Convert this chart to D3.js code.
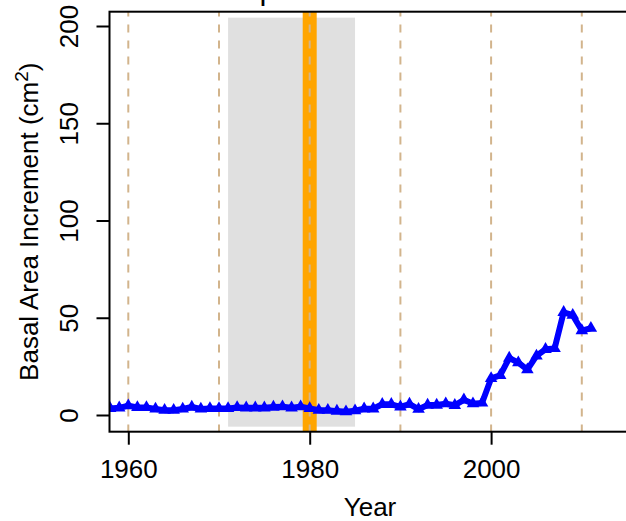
<!DOCTYPE html>
<html>
<head>
<meta charset="utf-8">
<script src="https://cdn.jsdelivr.net/npm/d3@7"></script>
<style>
    body { margin: 0; background: #ffffff; }
    svg { font-family: "Liberation Sans", Arial, sans-serif; }
</style>
</head>
<body>
<div id="chart-sandbox"></div>
<script>
var years = [1958, 1959, 1960, 1961, 1962, 1963, 1964, 1965, 1966, 1967,
             1968, 1969, 1970, 1971, 1972, 1973, 1974, 1975, 1976, 1977,
             1978, 1979, 1980, 1981, 1982, 1983, 1984, 1985, 1986, 1987,
             1988, 1989, 1990, 1991, 1992, 1993, 1994, 1995, 1996, 1997,
             1998, 1999, 2000, 2001, 2002, 2003, 2004, 2005, 2006, 2007,
             2008, 2009, 2010, 2011];
var bai = [3.4, 3.7, 4.8, 3.9, 3.9, 3.1, 2.5, 2.5, 3.1, 4.1,
           3.1, 3.4, 3.4, 3.4, 3.9, 3.7, 3.7, 3.7, 4.1, 4.3,
           3.7, 4.3, 3.4, 2.5, 2.5, 2.0, 1.7, 2.2, 3.2, 3.2,
           5.5, 5.5, 4.2, 5.6, 3.0, 5.1, 5.1, 5.8, 5.0, 7.8,
           5.8, 6.2, 18.8, 20.4, 29.3, 26.9, 23.3, 30.4, 33.8, 34.2,
           52.8, 51.3, 43.4, 44.6];

var xTicks = [1960, 1980, 2000];
var yTicks = [0, 50, 100, 150, 200];
var decadeLines = [1960, 1970, 1980, 1990, 2000, 2010];
var shadeYears = [1971, 1985];
var shadeValues = [-6, 204.3];
var eventYear = 1980;
var title = "Spruce Tree 1905";

var w = 626;
var h = 521;
var box = {left: 109.5, right: 630.5, top: 11.7, bottom: 431.7};

var x = d3.scaleLinear().domain([1960, 2000]).range([128.3, 491.1]);
var y = d3.scaleLinear().domain([0, 200]).range([415, 26]);

var svg = d3.select("#chart-sandbox").append("svg")
    .attr("width", w)
    .attr("height", h);

svg.append("clipPath").attr("id", "plot-clip")
    .append("rect")
    .attr("x", box.left)
    .attr("y", box.top)
    .attr("width", box.right - box.left)
    .attr("height", box.bottom - box.top);

var plot = svg.append("g").attr("clip-path", "url(#plot-clip)");

// shaded period
plot.append("rect")
    .attr("x", x(shadeYears[0]))
    .attr("y", y(shadeValues[1]))
    .attr("width", x(shadeYears[1]) - x(shadeYears[0]))
    .attr("height", y(shadeValues[0]) - y(shadeValues[1]))
    .attr("fill", "#e0e0e0");

// event line
plot.append("line")
    .attr("x1", x(eventYear))
    .attr("x2", x(eventYear))
    .attr("y1", box.top)
    .attr("y2", box.bottom)
    .attr("stroke", "#ffa500")
    .attr("stroke-width", 14);

// decade guides
plot.selectAll("line.decade")
    .data(decadeLines)
    .enter()
    .append("line")
    .attr("class", "decade")
    .attr("x1", function (d) { return x(d); })
    .attr("x2", function (d) { return x(d); })
    .attr("y1", box.top)
    .attr("y2", box.bottom)
    .attr("stroke", "#d2b48c")
    .attr("stroke-width", 2)
    .attr("stroke-dasharray", "8,8")
    .attr("stroke-dashoffset", 3.3);

var pts = years.map(function (yr, i) { return [yr, bai[i]]; });

var line = d3.line()
    .x(function (d) { return x(d[0]); })
    .y(function (d) { return y(d[1]); });

plot.append("path")
    .datum(pts)
    .attr("d", line)
    .attr("fill", "none")
    .attr("stroke", "#0000ff")
    .attr("stroke-width", 6)
    .attr("stroke-linejoin", "round");

plot.selectAll("path.pt")
    .data(pts)
    .enter()
    .append("path")
    .attr("class", "pt")
    .attr("d", d3.symbol().type(d3.symbolTriangle).size(68))
    .attr("transform", function (d) { return "translate(" + x(d[0]) + "," + y(d[1]) + ")"; })
    .attr("fill", "#0000ff");

// frame
svg.append("rect")
    .attr("x", box.left)
    .attr("y", box.top)
    .attr("width", box.right - box.left)
    .attr("height", box.bottom - box.top)
    .attr("fill", "none")
    .attr("stroke", "#000")
    .attr("stroke-width", 2);

var xAxis = svg.append("g")
    .attr("transform", "translate(0," + box.bottom + ")")
    .call(d3.axisBottom(x).tickValues(xTicks).tickFormat(d3.format("d"))
        .tickSize(13).tickPadding(15));
xAxis.select(".domain").remove();
xAxis.selectAll("line").attr("stroke", "#000").attr("stroke-width", 2);
xAxis.selectAll("text")
    .attr("font-size", 26)
    .attr("font-family", "Liberation Sans, Arial, sans-serif")
    .attr("fill", "#000");

var yAxis = svg.append("g")
    .attr("transform", "translate(" + box.left + ",0)")
    .call(d3.axisLeft(y).tickValues(yTicks).tickSize(13));
yAxis.select(".domain").remove();
yAxis.selectAll("line").attr("stroke", "#000").attr("stroke-width", 2);
yAxis.selectAll("text")
    .attr("transform", "rotate(-90)")
    .attr("x", 0)
    .attr("y", -31.5)
    .attr("dy", 0)
    .attr("text-anchor", "middle")
    .attr("font-size", 26)
    .attr("font-family", "Liberation Sans, Arial, sans-serif")
    .attr("fill", "#000");

var midX = (box.left + box.right) / 2;
var midY = (box.top + box.bottom) / 2;

svg.append("text")
    .attr("x", midX)
    .attr("y", 515.5)
    .attr("text-anchor", "middle")
    .attr("font-size", 26)
    .text("Year");

var yl = svg.append("text")
    .attr("transform", "translate(38," + midY + ") rotate(-90)")
    .attr("text-anchor", "middle")
    .attr("font-size", 26);
yl.append("tspan").text("Basal Area Increment (cm");
yl.append("tspan").attr("font-size", 19).attr("dy", -10).text("2");
yl.append("tspan").attr("dy", 10).text(")");

// title sits mostly above the page edge, as in the source image
svg.append("text")
    .attr("x", midX - 8)
    .attr("y", -1.5)
    .attr("text-anchor", "middle")
    .attr("font-size", 31)
    .text(title);
</script>
</body>
</html>
